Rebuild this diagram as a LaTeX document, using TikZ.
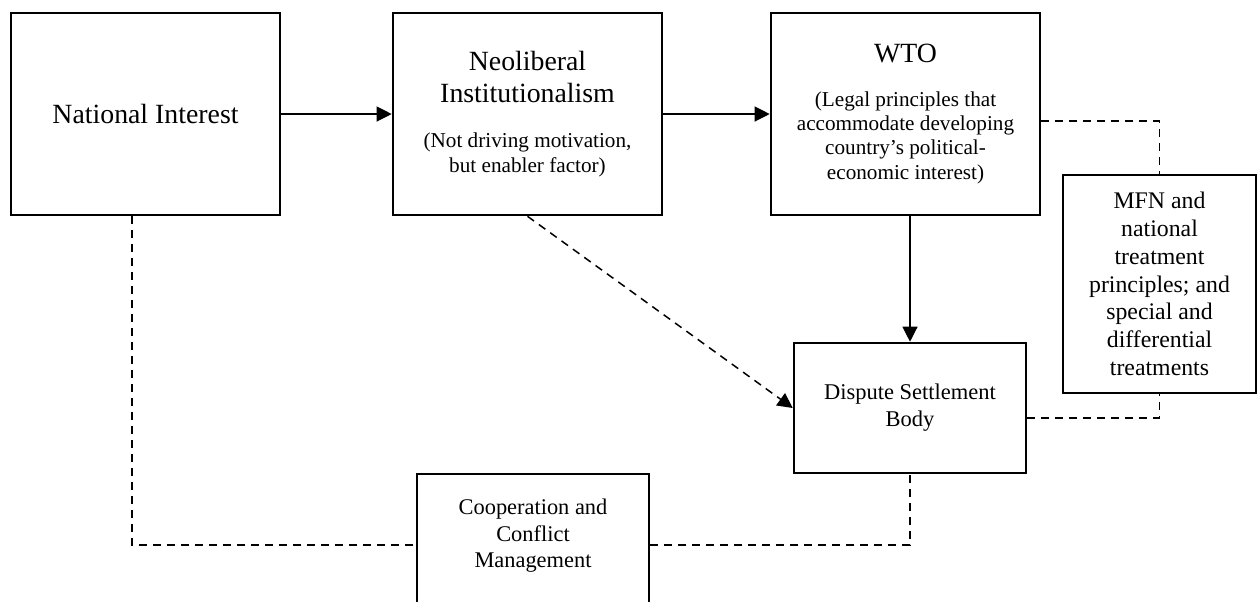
\documentclass[tikz,border=0pt]{standalone}
\usepackage{fontspec}
\setmainfont{Liberation Serif}
\usetikzlibrary{arrows.meta}
\newcommand{\titlefont}{\fontsize{13.9}{16}\selectfont}
\newcommand{\notefont}{\fontsize{10.6}{12.2}\selectfont}

\begin{document}
\begin{tikzpicture}[x=0.5pt, y=-0.5pt,
		box/.style={draw, line width=1.3pt, align=center, inner sep=2pt},
		bigbox/.style={box, minimum width=134.5pt, minimum height=101pt},
		tip/.style={-{Triangle[length=7.5pt,width=7.5pt]}},
		link/.style={line width=0.6pt, tip},
		dashlink/.style={line width=0.75pt, dash pattern=on 4pt off 3pt}]
		%%%%% START %%%%%
		\useasboundingbox (0,0) rectangle (1257,601);
		\clip (0,0) rectangle (1257,601);
		
		\node[bigbox, font=\titlefont] (ni) at (145.5,114) {National Interest};
		\node[bigbox, font=\notefont] (neo) at (527.5,114)
			{\titlefont Neoliberal\\[3.8pt]\titlefont Institutionalism\\[10.3pt](Not driving motivation,\\but enabler factor)};
		\node[bigbox, font=\notefont] (wto) at (905.5,114)
			{\titlefont WTO\\[9.5pt](Legal principles that\\accommodate developing\\country's political-\\economic interest)};
		
		\node[box, minimum width=96.5pt, minimum height=109pt, font=\fontsize{11.9}{13.9}\selectfont] (mfn) at (1159.5,284)
			{MFN and\\national\\treatment\\principles; and\\special and\\differential\\treatments};
		\node[box, minimum width=116pt, minimum height=65pt, font=\fontsize{11.25}{13.5}\selectfont] (dsb) at (910,408)
			{Dispute Settlement\\Body};
		
		\node[box, minimum width=116pt, minimum height=71pt] (coop) at (533,545) {};
		\node[align=center, font=\fontsize{11.2}{13.25}\selectfont] (cooptxt) at (533,536)
			{Cooperation and\\Conflict\\Management};
		
		\draw[link] (ni) -- (neo);
		\draw[link] (neo) -- (wto);
		\draw[link] (wto.south -| dsb.north) -- (dsb.north);
		\draw[dashlink, tip] (neo.south) -- (dsb.west);
		
		\draw[dashlink] ([yshift=-3.5pt]wto.east) -| (mfn.north);
		\draw[dashlink] ([yshift=-5pt]dsb.east) -| (mfn.south);
		\draw[dashlink] ([xshift=-6.75pt]ni.south) |- (coop.west);
		\draw[dashlink] (coop.east) -| (dsb.south);
		%%%%% END %%%%%
	\end{tikzpicture}
\end{document}
